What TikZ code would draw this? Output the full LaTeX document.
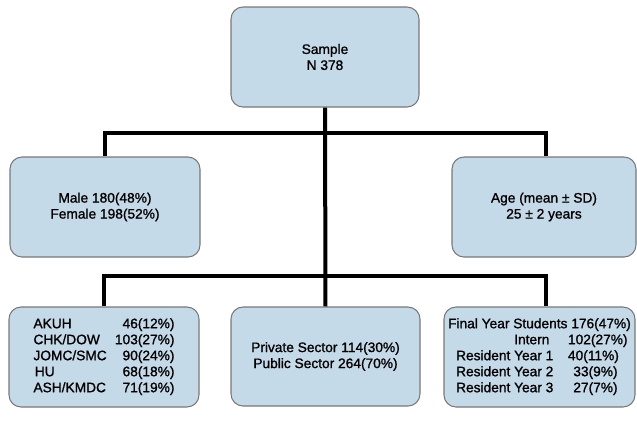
\documentclass[tikz,border=0pt]{standalone}
\usepackage{fontspec}
\setmainfont{Liberation Sans}
\newfontfamily\medfont[BoldFont={Liberation Sans}, BoldFeatures={FakeBold=1.1}]{Liberation Sans}
\usetikzlibrary{calc}
\definecolor{boxfill}{RGB}{197,218,232}
\definecolor{boxline}{RGB}{120,120,120}
\def\px{0.75pt}
\begin{document}
\begin{tikzpicture}[x=0.75pt,y=-0.75pt,
  box/.style={draw=boxline, line width=0.8pt, fill=boxfill, rounded corners=9pt,
    inner sep=0pt, align=center, font=\medfont\bfseries\fontsize{10.3}{12}\selectfont},
  conn/.style={line width=3pt, black}]
\useasboundingbox (0,0) rectangle (637,430);
\node[box, minimum width={188*\px}, minimum height={100*\px}] (top) at (325,57) {Sample\\N 378};
\node[box, minimum width={190*\px}, minimum height={100*\px}] (ml) at (105,207) {Male 180(48\%)\\Female 198(52\%)};
\node[box, minimum width={184*\px}, minimum height={100*\px}] (mr) at (544,207) {Age (mean ± SD)\\25 ± 2 years};
\node[box, minimum width={190*\px}, minimum height={100*\px}] (bl) at (104,357) {%
  \begin{tabular*}{105.75pt}{@{}l@{\extracolsep{\fill}}r@{}}
  AKUH & 46(12\%)\\
  CHK/DOW & 103(27\%)\\
  JOMC/SMC & 90(24\%)\\
  \hspace{1pt}HU & 68(18\%)\hspace{2pt}\\
  ASH/KMDC & 71(19\%)
  \end{tabular*}};
\node[box, minimum width={189*\px}, minimum height={99*\px}] (bm) at (325.5,356.5) {Private Sector 114(30\%)\\Public Sector 264(70\%)};
\node[box, minimum width={191*\px}, minimum height={100*\px}] (br) at (539.5,357) {%
  \begin{tabular}{@{\hspace{6pt}}r@{\hspace{11pt}}l@{}}
  \multicolumn{2}{@{}c@{}}{Final Year Students 176(47\%)}\\
  Intern\hspace{3pt} & 102(27\%)\\
  Resident Year 1 & 40(11\%)\\
  Resident Year 2 & \hspace{4pt}33(9\%)\\
  Resident Year 3 & \hspace{4pt}27(7\%)
  \end{tabular}};
\coordinate (j1) at (325,133);
\coordinate (j2) at (325,276);
\draw[conn] (top.south) -- (bm.north);
\draw[conn] (ml.north) |- (j1) -| ([xshift=1.5pt]mr.north);
\draw[conn] (bl.north) |- (j2) -| ([xshift=4.9pt]br.north);
\end{tikzpicture}
\end{document}
